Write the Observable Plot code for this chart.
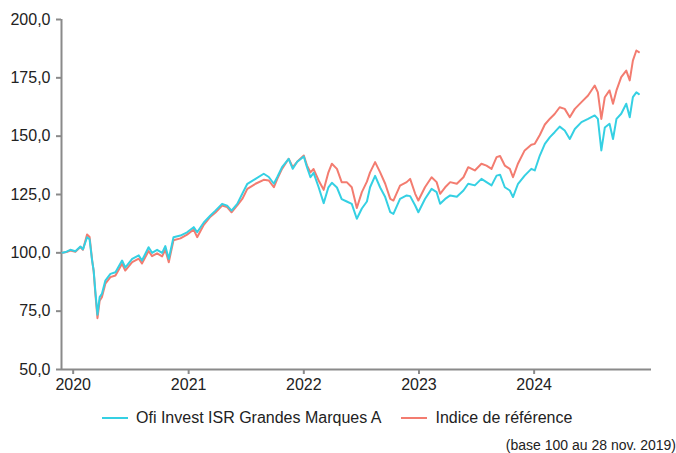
<!DOCTYPE html>
<html><head><meta charset="utf-8">
<script src="https://cdn.jsdelivr.net/npm/d3@7"></script>
<script src="https://cdn.jsdelivr.net/npm/@observablehq/plot@0.6"></script>
<style>
body{margin:0;background:#fff;font-family:"Liberation Sans",Arial,sans-serif;}
#wrap{position:relative;width:676px;height:453px;overflow:hidden;}
.legend{position:absolute;top:409px;left:102px;display:flex;align-items:center;font-size:16px;color:#222;white-space:nowrap;}
.item{display:flex;align-items:center;margin-right:20px;}
.sw{display:inline-block;width:26px;height:2px;margin-right:8px;}
.caption{position:absolute;right:0;top:437px;font-size:14px;color:#222;white-space:nowrap;}
</style></head><body><div id="wrap"></div>
<script>
const seriesNames = ["Ofi Invest ISR Grandes Marques A", "Indice de référence"];
const seriesColors = ["#35d0e3", "#f37c70"];
const caption = "(base 100 au 28 nov. 2019)";
const dates = ["2019-11-28","2019-12-11","2019-12-23","2020-01-08","2020-01-24","2020-02-01","2020-02-14","2020-02-22","2020-03-01","2020-03-06","2020-03-11","2020-03-18","2020-03-25","2020-04-01","2020-04-12","2020-04-28","2020-05-14","2020-06-04","2020-06-14","2020-07-06","2020-07-27","2020-08-06","2020-08-27","2020-09-07","2020-09-23","2020-10-09","2020-10-19","2020-10-30","2020-11-14","2020-12-06","2020-12-27","2021-01-17","2021-01-28","2021-02-18","2021-03-11","2021-03-27","2021-04-17","2021-05-03","2021-05-17","2021-06-04","2021-06-20","2021-07-06","2021-08-01","2021-08-27","2021-09-12","2021-09-28","2021-10-09","2021-10-24","2021-11-14","2021-11-27","2021-12-11","2022-01-01","2022-01-11","2022-01-22","2022-02-01","2022-02-17","2022-03-05","2022-03-20","2022-03-31","2022-04-16","2022-05-01","2022-05-17","2022-06-02","2022-06-18","2022-07-04","2022-07-20","2022-07-30","2022-08-15","2022-08-31","2022-09-16","2022-10-02","2022-10-12","2022-11-02","2022-11-23","2022-12-04","2022-12-20","2022-12-30","2023-01-20","2023-02-10","2023-02-26","2023-03-09","2023-03-25","2023-04-10","2023-05-01","2023-05-22","2023-06-06","2023-06-27","2023-07-18","2023-08-03","2023-08-19","2023-09-04","2023-09-15","2023-09-30","2023-10-16","2023-10-26","2023-11-11","2023-12-02","2023-12-23","2024-01-03","2024-01-19","2024-02-04","2024-02-20","2024-03-06","2024-03-22","2024-04-07","2024-04-23","2024-05-09","2024-05-30","2024-06-20","2024-07-11","2024-07-21","2024-08-01","2024-08-12","2024-08-27","2024-09-07","2024-09-18","2024-10-03","2024-10-19","2024-10-30","2024-11-09","2024-11-20","2024-11-28"];
const fund = [100,100.5,101.3,100.7,102.7,101.5,106.7,105.8,96.7,92.4,83.9,73.5,81.0,82.4,88.1,91.0,91.7,96.7,93.7,97.4,98.9,96.7,102.4,100.0,101.3,100.0,102.9,97.4,106.7,107.4,108.8,111.0,108.8,113.0,116.0,118.1,121.0,120.2,118.1,121.0,125.3,129.6,131.7,133.9,132.5,129.6,132.5,136.7,140.3,136.0,139.0,141.3,136.7,132.4,134.3,128.1,121.3,128.1,130.0,128.0,123.0,122.0,121.0,114.6,119.0,122.0,128.1,133.0,128.0,123.9,117.4,116.7,123.1,124.6,124.3,120.3,117.4,123.1,127.4,126.0,121.0,123.1,124.6,124.0,126.7,129.6,128.9,131.7,130.3,128.9,133.1,133.5,128.1,126.7,123.9,129.6,133.1,136.0,135.3,141.7,146.7,149.6,151.7,154.1,152.4,148.8,153.1,156.0,157.4,158.9,157.4,143.9,153.7,155.3,148.8,157.4,159.6,163.9,158.1,166.7,168.8,168.0];
const bench = [100,100.3,101.0,100.5,102.5,101.3,107.9,106.8,97.0,92.0,83.0,72.0,79.5,81.0,86.8,89.6,90.3,95.3,92.4,96.0,97.5,95.4,100.8,98.6,99.8,98.5,101.3,96.0,105.4,106.2,107.8,110.0,106.7,112.0,115.5,117.3,120.3,119.6,117.4,120.3,123.1,127.4,129.6,131.3,131.0,128.1,131.7,136.0,140.3,136.7,139.0,141.7,137.5,134.5,135.9,131.0,127.0,134.5,138.2,136.0,130.3,130.3,128.1,119.2,126.0,130.5,134.5,138.9,134.5,129.6,123.1,122.4,128.8,130.3,131.7,125.3,122.4,128.1,132.4,130.3,125.3,128.1,130.3,129.6,132.4,136.7,135.3,138.2,137.4,136.0,141.0,141.5,137.4,136.0,132.4,138.3,143.9,146.3,146.7,150.5,155.0,157.5,159.5,162.4,161.7,158.1,161.7,164.6,167.4,171.7,168.8,157.4,166.7,169.6,163.9,169.6,175.3,178.1,173.9,182.4,186.7,186.0];
const yTicks = [50,75,100,125,150,175,200];
const xTickYears = ["2020-01-01","2021-01-01","2022-01-01","2023-01-01","2024-01-01"];

const parse = d3.utcParse("%Y-%m-%d");
const rows = [];
dates.forEach((d,i)=>rows.push({date:parse(d), v:bench[i], s:seriesNames[1]}));
dates.forEach((d,i)=>rows.push({date:parse(d), v:fund[i], s:seriesNames[0]}));
const xDomain = [parse("2019-11-25"), parse("2025-01-07")];
const fmt = v => v.toFixed(1).replace(".", ",");
const gray = "#8a8a8a";

const chart = Plot.plot({
  width: 676, height: 395,
  marginLeft: 61, marginRight: 25, marginTop: 19, marginBottom: 26,
  style: {fontFamily: "'Liberation Sans', Arial, sans-serif", fontSize: "16px", background: "white", color: "#222"},
  x: {type: "utc", domain: xDomain},
  y: {domain: [50, 200]},
  color: {domain: seriesNames, range: seriesColors},
  marks: [
    Plot.axisY({ticks: yTicks, tickFormat: fmt, tickSize: 5, tickPadding: 6, stroke: gray, strokeWidth: 2, fill: "#222", label: null}),
    Plot.axisX({ticks: xTickYears.map(parse), tickFormat: "%Y", tickSize: 5, tickPadding: 4, stroke: gray, strokeWidth: 2, fill: "#222", label: null}),
    Plot.ruleY([50], {stroke: gray, strokeWidth: 2}),
    Plot.ruleX([xDomain[0]], {stroke: gray, strokeWidth: 2}),
    Plot.line(rows, {x: "date", y: "v", z: "s", stroke: "s", strokeWidth: 2, curve: "linear"})
  ]
});

const wrap = document.getElementById("wrap");
wrap.appendChild(chart);
const leg = document.createElement("div");
leg.className = "legend";
seriesNames.forEach((n,i)=>{
  const it = document.createElement("span"); it.className = "item";
  const sw = document.createElement("span"); sw.className = "sw"; sw.style.background = seriesColors[i];
  const t = document.createElement("span"); t.textContent = n;
  it.appendChild(sw); it.appendChild(t); leg.appendChild(it);
});
wrap.appendChild(leg);
const cap = document.createElement("div");
cap.className = "caption"; cap.textContent = caption;
wrap.appendChild(cap);
</script>
</body></html>
